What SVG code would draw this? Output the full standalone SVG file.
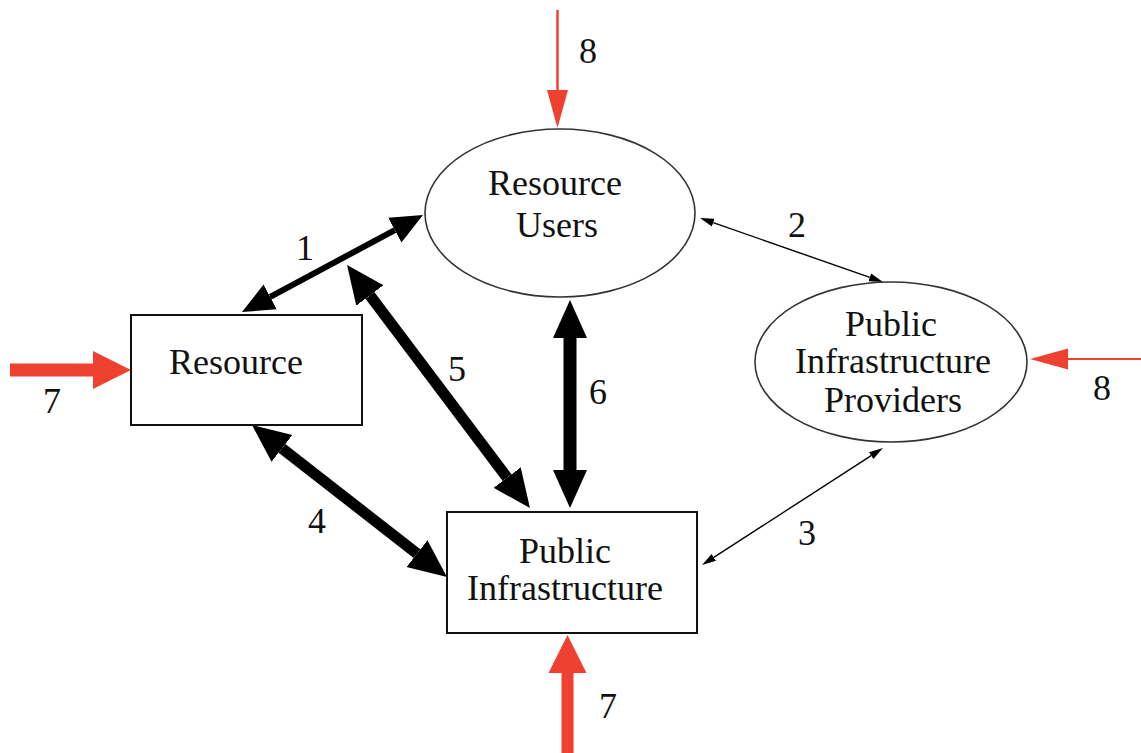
<svg xmlns="http://www.w3.org/2000/svg" width="1141" height="753" viewBox="0 0 1141 753">
<style>
.t{font-size:36px;fill:#111;text-anchor:middle}
.box{fill:#fff;stroke:#111;stroke-width:2}
.ell{fill:#fff;stroke:#333;stroke-width:1.6}
.blk{stroke:#000;fill:none}
.red{stroke:#ee4130;fill:none}
</style>
<defs>
<marker id="hb" markerUnits="userSpaceOnUse" markerWidth="40" markerHeight="40" refX="0" refY="17" viewBox="0 0 40 34" orient="auto-start-reverse"><path d="M0,0 L38,17 L0,34 Z" fill="#000"/></marker>
<marker id="hm" markerUnits="userSpaceOnUse" markerWidth="34" markerHeight="30" refX="0" refY="14" viewBox="0 0 34 28" orient="auto-start-reverse"><path d="M0,0 L32,14 L0,28 Z" fill="#000"/></marker>
<marker id="hs" markerUnits="userSpaceOnUse" markerWidth="16" markerHeight="10" refX="0" refY="4" viewBox="0 0 16 8" orient="auto-start-reverse"><path d="M0,0 L14,4 L0,8 Z" fill="#000"/></marker>
<marker id="rb" markerUnits="userSpaceOnUse" markerWidth="40" markerHeight="40" refX="0" refY="19" viewBox="0 0 40 38" orient="auto"><path d="M0,0 L38,19 L0,38 Z" fill="#ee4130"/></marker>
<marker id="rs" markerUnits="userSpaceOnUse" markerWidth="40" markerHeight="22" refX="0" refY="10.5" viewBox="0 0 40 21" orient="auto"><path d="M0,0 L38,10.5 L0,21 Z" fill="#ee4130"/></marker>
</defs>
<g id="connectors">
<line class="blk" x1="270.2" y1="296.9" x2="394.8" y2="230.1" stroke-width="6" marker-start="url(#hm)" marker-end="url(#hm)"/>
<line class="blk" x1="369.9" y1="295.4" x2="507.1" y2="477.6" stroke-width="11" marker-start="url(#hb)" marker-end="url(#hb)"/>
<line class="blk" x1="570" y1="338" x2="570" y2="470" stroke-width="13" marker-start="url(#hb)" marker-end="url(#hb)"/>
<line class="blk" x1="282" y1="448.4" x2="417" y2="553.6" stroke-width="11" marker-start="url(#hb)" marker-end="url(#hb)"/>
<line class="blk" x1="713.2" y1="222.6" x2="869.8" y2="277.4" stroke-width="1.4" marker-start="url(#hs)" marker-end="url(#hs)"/>
<line class="blk" x1="871.2" y1="455.6" x2="713.8" y2="557.4" stroke-width="1.4" marker-start="url(#hs)" marker-end="url(#hs)"/>
<line class="red" x1="557.5" y1="10" x2="557.5" y2="90" stroke-width="2.5" marker-end="url(#rs)"/>
<line class="red" x1="1141" y1="359" x2="1068" y2="359" stroke-width="2" marker-end="url(#rs)"/>
<line class="red" x1="10" y1="370" x2="93" y2="370" stroke-width="13" marker-end="url(#rb)"/>
<line class="red" x1="567.5" y1="753" x2="567.5" y2="673" stroke-width="12" marker-end="url(#rb)"/>
<g font-family="Liberation Serif, Times New Roman, DejaVu Serif, serif">
<text class="t" x="305" y="260">1</text>
<text class="t" x="797" y="237">2</text>
<text class="t" x="807" y="545">3</text>
<text class="t" x="317" y="533">4</text>
<text class="t" x="457" y="381">5</text>
<text class="t" x="598" y="404">6</text>
<text class="t" x="52" y="413">7</text>
<text class="t" x="608" y="718">7</text>
<text class="t" x="588" y="63">8</text>
<text class="t" x="1102" y="400">8</text>
</g>
</g>
<g id="resource-users" font-family="Liberation Serif, Times New Roman, DejaVu Serif, serif">
<ellipse class="ell" cx="560" cy="213" rx="135" ry="84"/>
<text class="t" x="555" y="195">Resource</text>
<text class="t" x="557" y="237">Users</text>
</g>
<g id="public-infrastructure-providers" font-family="Liberation Serif, Times New Roman, DejaVu Serif, serif">
<ellipse class="ell" cx="891" cy="362" rx="136" ry="80"/>
<text class="t" x="891" y="336">Public</text>
<text class="t" x="893" y="373">Infrastructure</text>
<text class="t" x="893" y="412">Providers</text>
</g>
<g id="resource" font-family="Liberation Serif, Times New Roman, DejaVu Serif, serif">
<rect class="box" x="131" y="315" width="231" height="110"/>
<text class="t" x="236" y="374">Resource</text>
</g>
<g id="public-infrastructure" font-family="Liberation Serif, Times New Roman, DejaVu Serif, serif">
<rect class="box" x="447" y="512" width="250" height="121"/>
<text class="t" x="565" y="563">Public</text>
<text class="t" x="565" y="600">Infrastructure</text>
</g>
</svg>
